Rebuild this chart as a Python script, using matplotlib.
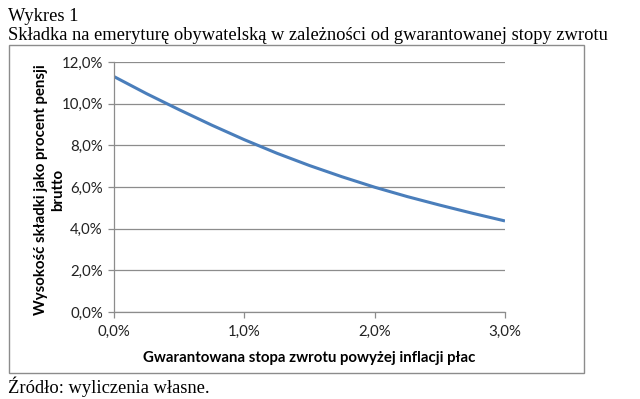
import numpy as np
import matplotlib.pyplot as plt
from matplotlib.patches import Rectangle
from matplotlib.ticker import FuncFormatter

# data (x: guaranteed return above wage inflation, %)
stopa = [0.0, 0.25, 0.5, 0.75, 1.0, 1.25, 1.5, 1.75, 2.0, 2.25, 2.5, 2.75, 3.0]
skladka = [11.3, 10.48, 9.71, 8.97, 8.27, 7.62, 7.03, 6.49, 5.99, 5.54, 5.13, 4.74, 4.37]
x_ticks = [0, 1, 2, 3]
y_ticks = [0, 2, 4, 6, 8, 10, 12]

fig = plt.figure(figsize=(6.4, 3.99), dpi=100)
serif = "Liberation Serif"
sans = "Lato"

fig.text(8/640, 1-21/399, "Wykres 1", family=serif, fontsize=13.3, ha="left", va="baseline")
fig.text(8/640, 1-40/399, "Składka na emeryturę obywatelską w zależności od gwarantowanej stopy zwrotu",
         family=serif, fontsize=13.3, ha="left", va="baseline")
fig.text(8/640, 1-393/399, "Źródło: wyliczenia własne.", family=serif, fontsize=13.3, ha="left", va="baseline")

# chart frame
fig.patches.append(Rectangle((9/640, 1-373/399), 575/640, 328/399, transform=fig.transFigure,
                             fill=False, edgecolor="#8c8c8c", linewidth=1.0))

ax = fig.add_axes([114/640, 1-312/399, 391/640, 250/399])
ax.plot(stopa, skladka, color="#4a7ebb", linewidth=2.2, solid_capstyle="butt")
ax.set_xlim(0, 3)
ax.set_ylim(0, 12)
ax.set_xticks(x_ticks)
ax.set_yticks(y_ticks)
fmt = FuncFormatter(lambda v, p: f"{v:.1f}%".replace(".", ","))
ax.xaxis.set_major_formatter(fmt)
ax.yaxis.set_major_formatter(fmt)
ax.grid(axis="y", color="#8c8c8c", linewidth=0.9)
ax.set_axisbelow(True)
for s in ["top", "right"]:
    ax.spines[s].set_visible(False)
for s in ["left", "bottom"]:
    ax.spines[s].set_color("#8c8c8c")
    ax.spines[s].set_linewidth(0.9)
ax.tick_params(colors="#8c8c8c", length=4, width=0.9, labelcolor="#222222", labelsize=10.8)
for lab in ax.get_xticklabels() + ax.get_yticklabels():
    lab.set_family(sans)
ax.tick_params(axis="x", pad=5)
ax.tick_params(axis="y", pad=4)

ax.set_xlabel("Gwarantowana stopa zwrotu powyżej inflacji płac", family=sans, fontsize=10.8,
              fontweight="bold", labelpad=9)
ax.set_ylabel("Wysokość składki jako procent pensji\nbrutto", family=sans, fontsize=10.8,
              fontweight="bold", linespacing=1.3)
ax.yaxis.set_label_coords(-0.125, 0.49)

fig.savefig("out.png", dpi=100)
